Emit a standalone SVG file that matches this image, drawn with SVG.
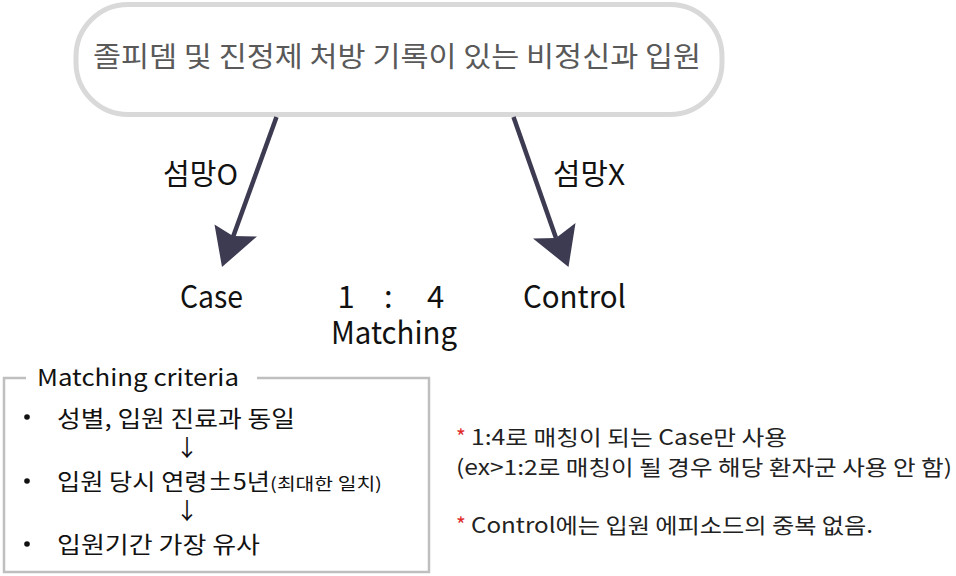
<svg xmlns="http://www.w3.org/2000/svg" width="956" height="576" viewBox="0 0 956 576">
<defs>
<style>
text{font-family:"Noto Sans CJK KR","Noto Sans",sans-serif;}
.top{font-size:28px;fill:#595959;}
.lbl{font-size:29px;fill:#111;}
.big{font-size:31px;fill:#111;}
.crit{font-size:23px;fill:#111;}
.note{font-size:21px;fill:#222;}
.red{fill:#e02b2b;}
.conn{stroke:#3d3b52;stroke-width:4.5;fill:none;}
</style>
</defs>
<rect width="956" height="576" fill="#fff"/>
<g id="source">
<rect x="76" y="4.5" width="646" height="110" rx="52" ry="52" fill="#fff" stroke="#d9d9d9" stroke-width="5"/>
<text class="top" x="93" y="67" textLength="608" lengthAdjust="spacingAndGlyphs">졸피뎀 및 진정제 처방 기록이 있는 비정신과 입원</text>
</g>
<g id="connectors">
<line class="conn" x1="276.5" y1="117" x2="233" y2="237"/>
<path d="M222,267 L214.5,224.5 L233,236 L257,236.5 Z" fill="#3d3b52"/>
<line class="conn" x1="513.5" y1="117" x2="556" y2="238"/>
<path d="M568.5,267 L533,238.5 L556,238 L575.5,223 Z" fill="#3d3b52"/>
<text class="lbl" x="163" y="185" textLength="75" lengthAdjust="spacingAndGlyphs">섬망O</text>
<text class="lbl" x="553" y="185" textLength="72" lengthAdjust="spacingAndGlyphs">섬망X</text>
</g>
<g id="case"><text class="big" x="180" y="308" textLength="63" lengthAdjust="spacingAndGlyphs">Case</text></g>
<g id="ratio">
<text class="big"><tspan x="337.5" y="308">1</tspan><tspan x="384" y="308">:</tspan><tspan x="427" y="308">4</tspan><tspan x="331" y="344" textLength="126" lengthAdjust="spacingAndGlyphs">Matching</tspan></text>
</g>
<g id="control"><text class="big" x="523" y="308" textLength="103" lengthAdjust="spacingAndGlyphs">Control</text></g>
<g id="criteria">
<path d="M26,378 H4 V572 H429 V378 H257" fill="none" stroke="#bfbfbf" stroke-width="2.5"/>
<text class="crit" x="37" y="386" textLength="202" lengthAdjust="spacingAndGlyphs">Matching criteria</text>
<circle cx="27" cy="417" r="2.8" fill="#111"/>
<text class="crit" x="57" y="427" textLength="238" lengthAdjust="spacingAndGlyphs">성별, 입원 진료과 동일</text>
<text class="crit" x="187" y="456" font-size="15" text-anchor="middle">↓</text>
<circle cx="27" cy="481" r="2.8" fill="#111"/>
<text class="crit" x="57" y="490"><tspan textLength="213" lengthAdjust="spacingAndGlyphs">입원 당시 연령±5년</tspan><tspan font-size="17" textLength="112" lengthAdjust="spacingAndGlyphs">(최대한 일치)</tspan></text>
<text class="crit" x="187" y="519" font-size="15" text-anchor="middle">↓</text>
<circle cx="27" cy="544" r="2.8" fill="#111"/>
<text class="crit" x="57" y="553" textLength="203" lengthAdjust="spacingAndGlyphs">입원기간 가장 유사</text>
</g>
<g id="notes">
<text class="note red" x="456" y="445">*</text>
<text class="note" x="471" y="445" textLength="316" lengthAdjust="spacingAndGlyphs">1:4로 매칭이 되는 Case만 사용</text>
<text class="note" x="456" y="475" textLength="496" lengthAdjust="spacingAndGlyphs">(ex&gt;1:2로 매칭이 될 경우 해당 환자군 사용 안 함)</text>
<text class="note red" x="456" y="533">*</text>
<text class="note" x="471" y="533" textLength="402" lengthAdjust="spacingAndGlyphs">Control에는 입원 에피소드의 중복 없음.</text>
</g>
</svg>
